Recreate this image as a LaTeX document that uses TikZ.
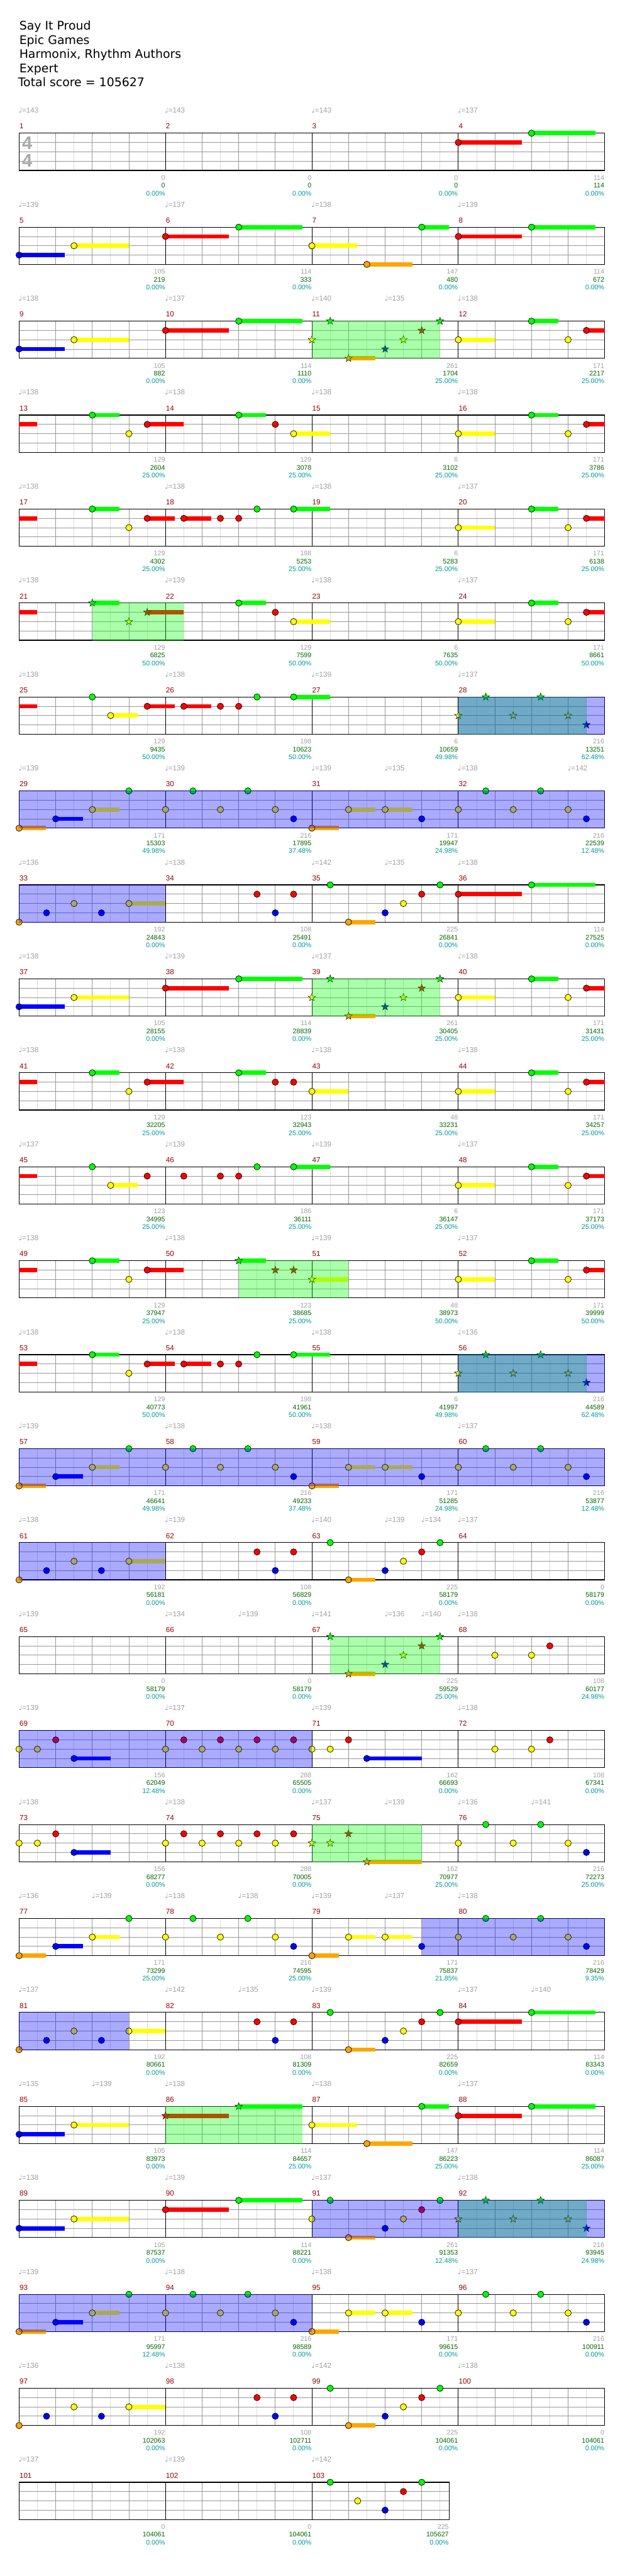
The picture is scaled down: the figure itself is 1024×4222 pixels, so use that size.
\documentclass[tikz,border=0pt]{standalone}
\usepackage{fontspec}
\setmainfont{Liberation Sans}
\newfontfamily\dejavu{DejaVu Sans}
\usetikzlibrary{shapes.geometric}
\definecolor{lane0}{RGB}{0,255,0}
\definecolor{lane1}{RGB}{255,0,0}
\definecolor{lane2}{RGB}{255,255,0}
\definecolor{lane3}{RGB}{0,0,255}
\definecolor{lane4}{RGB}{255,165,0}
\definecolor{halfgray}{RGB}{221,221,221}
\definecolor{beatgray}{RGB}{153,153,153}
\definecolor{txtgray}{RGB}{160,160,160}
\definecolor{mnumc}{RGB}{153,0,0}
\definecolor{scgreen}{RGB}{0,102,0}
\definecolor{sccyan}{RGB}{0,153,153}
\definecolor{tsgray}{RGB}{170,170,170}
\tikzset{
  mnum/.style={inner sep=0pt,anchor=base west,text=mnumc,font=\fontsize{12}{12}\selectfont},
  tempo/.style={inner sep=0pt,anchor=base west,text=txtgray,font=\fontsize{12}{12}\selectfont},
  scgr/.style={inner sep=0pt,anchor=base east,text=txtgray,font=\fontsize{11}{11}\selectfont},
  scgn/.style={inner sep=0pt,anchor=base east,text=scgreen,font=\fontsize{11}{11}\selectfont},
  sccy/.style={inner sep=0pt,anchor=base east,text=sccyan,font=\fontsize{11}{11}\selectfont},
  header/.style={inner sep=0pt,anchor=base west,font=\dejavu\fontsize{19.5}{23}\selectfont},
  tsig/.style={inner sep=0pt,text=tsgray,font=\bfseries\fontsize{30}{30}\selectfont},
  starnote/.style={star,star points=5,star point ratio=2.5,minimum size=13pt,inner sep=0pt,draw=black,line width=0.5pt},
}
\newcommand\Mset[1]{\pgfmathtruncatemacro\mrow{int((#1-1)/4)}\pgfmathtruncatemacro\mcol{#1-1-4*\mrow}\pgfmathsetmacro\mX{31.3+240*\mcol}\pgfmathsetmacro\mY{218.3+154*\mrow}}
\newcommand\Nt[4]{\Mset{#1}\pgfmathsetmacro\nx{\mX+60*#2}\pgfmathsetmacro\ny{\mY+15.25*#3}\pgfmathsetmacro\nl{60*#4}%
  \ifdim\nl pt>0pt \fill[lane#3] (\nx,\ny-3.5) rectangle (\nx+\nl,\ny+3.5);\fi
  \filldraw[fill=lane#3,draw=black,line width=0.7pt] (\nx,\ny) circle[radius=5.2];}
\newcommand\Sn[4]{\Mset{#1}\pgfmathsetmacro\nx{\mX+60*#2}\pgfmathsetmacro\ny{\mY+15.25*#3}\pgfmathsetmacro\nl{60*#4}%
  \ifdim\nl pt>0pt \fill[lane#3] (\nx,\ny-3.5) rectangle (\nx+\nl,\ny+3.5);\fi
  \node[starnote,fill=lane#3] at (\nx,\ny) {};}
\newcommand\Sus[4]{\Mset{#1}\pgfmathsetmacro\nx{\mX+60*#2}\pgfmathsetmacro\ny{\mY+15.25*#3}\pgfmathsetmacro\nl{60*#4}%
  \fill[lane#3] (\nx,\ny-3.5) rectangle (\nx+\nl,\ny+3.5);}
\newcommand\ScoAt[5]{\Mset{#1}\pgfmathsetmacro\ex{\mX+#5-0.5}%
  \node[scgr] (sa#1) at (\ex,\mY+76.7) {#2};
  \node[scgn] (sb#1) at (\ex,\mY+89.7) {#3};
  \node[sccy] (sc#1) at (\ex,\mY+102.4) {#4\%};}
\newcommand\Sco[4]{\ScoAt{#1}{#2}{#3}{#4}{240}}
\newcommand\Tp[3]{\Mset{#1}\pgfmathsetmacro\tx{\mX+60*#2-1}%
  \node[tempo] at (\tx,\mY-33) {{\dejavu\fontsize{12}{12}\selectfont ♩}=#3};}
\newcommand\Greg[3]{\Mset{#1}\fill[lane0,opacity=0.333] (\mX+60*#2,\mY-0.6) rectangle (\mX+60*#3,\mY+61.6);}
\newcommand\Breg[3]{\Mset{#1}\fill[lane3,opacity=0.333] (\mX+60*#2,\mY-0.6) rectangle (\mX+60*#3,\mY+61.6);}
\newcommand\Staff[2]{%
  \pgfmathsetmacro\sT{218.3+154*#1}\pgfmathsetmacro\sB{\sT+61}\pgfmathsetmacro\sR{31.3+#2}%
  \pgfmathtruncatemacro\nh{ceil(#2/30)-1}%
  \foreach \i in {1,...,\nh}{\pgfmathtruncatemacro\qq{mod(\i,2)}\ifnum\qq=1 \pgfmathsetmacro\xx{31.3+30*\i}\draw[halfgray,line width=1pt] (\xx,\sT)--(\xx,\sB);\fi}
  \foreach \k in {1,2,3}{\pgfmathsetmacro\yy{\sT+15.25*\k}\draw[beatgray,line width=1pt] (31.3,\yy)--(\sR,\yy);}
  \foreach \i in {1,...,\nh}{\pgfmathtruncatemacro\qq{mod(\i,2)}\pgfmathtruncatemacro\rm{mod(\i,8)}\ifnum\qq=0 \pgfmathsetmacro\xx{31.3+30*\i}\ifnum\rm=0 \draw[black,line width=1pt] (\xx,\sT)--(\xx,\sB);\else\draw[beatgray,line width=1pt] (\xx,\sT)--(\xx,\sB);\fi\fi}
  \draw[black,line width=1.2pt] (31.3,\sT) rectangle (\sR,\sB);}
% patterns
\newcommand\PatA[1]{\Nt{#1}{0}{4}{0.74}\Nt{#1}{1}{3}{0.74}\Nt{#1}{2}{2}{0.74}\Nt{#1}{3}{0}{0}}
\newcommand\PatB[1]{\Nt{#1}{0}{2}{0}\Nt{#1}{0.75}{0}{0}\Nt{#1}{1.5}{2}{0}\Nt{#1}{2.25}{0}{0}\Nt{#1}{3}{2}{0}\Nt{#1}{3.5}{3}{0}}
\newcommand\PatC[1]{\Nt{#1}{0}{4}{0.74}\Nt{#1}{1}{2}{0.74}\Nt{#1}{2}{2}{0.74}\Nt{#1}{3}{3}{0}}
\newcommand\PatD[1]{\Nt{#1}{0}{4}{0}\Nt{#1}{0.75}{3}{0}\Nt{#1}{1.5}{2}{0}\Nt{#1}{2.25}{3}{0}\Nt{#1}{3}{2}{1.0}}
\newcommand\PatE[1]{\Nt{#1}{2.5}{1}{0}\Nt{#1}{3}{3}{0}\Nt{#1}{3.5}{1}{0}}
\newcommand\PatF[1]{\Nt{#1}{0.5}{0}{0}\Nt{#1}{1}{4}{0.74}\Nt{#1}{2}{3}{0}\Nt{#1}{2.5}{2}{0}\Nt{#1}{3}{1}{0}\Nt{#1}{3.5}{0}{0}}
\newcommand\PatG[1]{\Nt{#1}{0}{1}{1.74}\Nt{#1}{2}{0}{1.74}}
\newcommand\PatH[1]{\Nt{#1}{0}{3}{1.24}\Nt{#1}{1.5}{2}{1.5}}
\newcommand\PatS[1]{\Sn{#1}{0}{2}{0}\Sn{#1}{0.75}{0}{0}\Sn{#1}{1.5}{2}{0}\Sn{#1}{2.25}{0}{0}\Sn{#1}{3}{2}{0}\Sn{#1}{3.5}{3}{0}}
\newcommand\PatT[1]{\Sn{#1}{0}{2}{0}\Sn{#1}{0.5}{0}{0}\Sn{#1}{1}{4}{0.74}\Sn{#1}{2}{3}{0}\Sn{#1}{2.5}{2}{0}\Sn{#1}{3}{1}{0}\Sn{#1}{3.5}{0}{0}}
\newcommand\PatK[1]{\Nt{#1}{0}{2}{0}\Nt{#1}{0.5}{1}{0}\Nt{#1}{1}{2}{0}\Nt{#1}{1.5}{1}{0}\Nt{#1}{2}{2}{0}\Nt{#1}{2.5}{1}{0}\Nt{#1}{3}{2}{0}\Nt{#1}{3.5}{1}{0}}
\newcommand\PatL[1]{\Nt{#1}{0}{2}{1.0}\Nt{#1}{2}{0}{0.74}\Nt{#1}{3}{2}{0}\Nt{#1}{3.5}{1}{0.5}}
\newcommand\PatM[2]{\Sus{#1}{0}{1}{0.5}\Nt{#1}{2}{0}{0.74}\Nt{#1}{3}{2}{0}\Nt{#1}{3.5}{1}{#2}}
\newcommand\PatN[1]{\Nt{#1}{0.5}{1}{0.75}\Nt{#1}{1.5}{1}{0}\Nt{#1}{2}{1}{0}\Nt{#1}{2.5}{0}{0}\Nt{#1}{3.5}{0}{1.0}}
\newcommand\PatP[1]{\Nt{#1}{0}{2}{1.24}\Nt{#1}{1.5}{4}{1.24}\Nt{#1}{3}{0}{0.74}}
\begin{document}
\begin{tikzpicture}[x=1pt,y=-1pt]
\useasboundingbox (0,0) rectangle (1024,4222);
\fill[white] (0,0) rectangle (1024,4222);
% header
\node[header] (title) at (31.5,49.3) {Say It Proud};
\node[header] (artist) at (31.5,72.3) {Epic Games};
\node[header] (charter) at (31.5,95.7) {Harmonix, Rhythm Authors};
\node[header] (diff) at (31.5,118.7) {Expert};
\node[header] (total) at (29.5,141.7) {Total score = 105627};
% staves
\foreach \rr in {0,...,24}{\Staff{\rr}{960}}
\Staff{25}{705}
\node[tsig] (ts1) at (44.5,234) {4};
\node[tsig] (ts2) at (44.5,263.5) {4};
% measure numbers
\foreach \m in {1,...,103}{\Mset{\m}\node[mnum] (mn\m) at (\mX+0.5,\mY-7) {\m};}
% tempos
\Tp{1}{0}{143}\Tp{2}{0}{143}\Tp{3}{0}{143}\Tp{4}{0}{137}
\Tp{5}{0}{139}\Tp{6}{0}{137}\Tp{7}{0}{138}\Tp{8}{0}{139}
\Tp{9}{0}{138}\Tp{10}{0}{137}\Tp{11}{0}{140}\Tp{11}{2}{135}\Tp{12}{0}{138}
\Tp{13}{0}{138}\Tp{14}{0}{138}\Tp{15}{0}{138}\Tp{16}{0}{138}
\Tp{17}{0}{138}\Tp{18}{0}{138}\Tp{19}{0}{138}\Tp{20}{0}{137}
\Tp{21}{0}{138}\Tp{22}{0}{139}\Tp{23}{0}{138}\Tp{24}{0}{137}
\Tp{25}{0}{138}\Tp{26}{0}{138}\Tp{27}{0}{139}\Tp{28}{0}{137}
\Tp{29}{0}{139}\Tp{30}{0}{139}\Tp{31}{0}{139}\Tp{31}{2}{135}\Tp{32}{0}{138}\Tp{32}{3}{142}
\Tp{33}{0}{136}\Tp{34}{0}{138}\Tp{35}{0}{142}\Tp{35}{2}{135}\Tp{36}{0}{138}
\Tp{37}{0}{138}\Tp{38}{0}{139}\Tp{39}{0}{137}\Tp{40}{0}{138}
\Tp{41}{0}{138}\Tp{42}{0}{138}\Tp{43}{0}{138}\Tp{44}{0}{138}
\Tp{45}{0}{137}\Tp{46}{0}{139}\Tp{47}{0}{139}\Tp{48}{0}{137}
\Tp{49}{0}{138}\Tp{50}{0}{138}\Tp{51}{0}{139}\Tp{52}{0}{137}
\Tp{53}{0}{138}\Tp{54}{0}{138}\Tp{55}{0}{138}\Tp{56}{0}{136}
\Tp{57}{0}{139}\Tp{58}{0}{138}\Tp{59}{0}{138}\Tp{60}{0}{137}
\Tp{61}{0}{138}\Tp{62}{0}{139}\Tp{63}{0}{140}\Tp{63}{2}{139}\Tp{63}{3}{134}\Tp{64}{0}{137}
\Tp{65}{0}{139}\Tp{66}{0}{134}\Tp{66}{2}{139}\Tp{67}{0}{141}\Tp{67}{2}{136}\Tp{67}{3}{140}\Tp{68}{0}{138}
\Tp{69}{0}{139}\Tp{70}{0}{137}\Tp{71}{0}{139}\Tp{72}{0}{138}
\Tp{73}{0}{138}\Tp{74}{0}{138}\Tp{75}{0}{137}\Tp{75}{2}{139}\Tp{76}{0}{136}\Tp{76}{2}{141}
\Tp{77}{0}{136}\Tp{77}{2}{139}\Tp{78}{0}{138}\Tp{78}{2}{138}\Tp{79}{0}{139}\Tp{79}{2}{137}\Tp{80}{0}{138}
\Tp{81}{0}{137}\Tp{82}{0}{142}\Tp{82}{2}{135}\Tp{83}{0}{139}\Tp{84}{0}{137}\Tp{84}{2}{140}
\Tp{85}{0}{135}\Tp{85}{2}{139}\Tp{86}{0}{138}\Tp{87}{0}{138}\Tp{88}{0}{137}
\Tp{89}{0}{138}\Tp{90}{0}{139}\Tp{91}{0}{137}\Tp{92}{0}{138}
\Tp{93}{0}{139}\Tp{94}{0}{138}\Tp{95}{0}{138}\Tp{96}{0}{137}
\Tp{97}{0}{136}\Tp{98}{0}{138}\Tp{99}{0}{142}\Tp{100}{0}{138}
\Tp{101}{0}{137}\Tp{102}{0}{139}\Tp{103}{0}{142}
% scores
\Sco{1}{0}{0}{0.00}\Sco{2}{0}{0}{0.00}\Sco{3}{0}{0}{0.00}\Sco{4}{114}{114}{0.00}
\Sco{5}{105}{219}{0.00}\Sco{6}{114}{333}{0.00}\Sco{7}{147}{480}{0.00}\Sco{8}{114}{672}{0.00}
\Sco{9}{105}{882}{0.00}\Sco{10}{114}{1110}{0.00}\Sco{11}{261}{1704}{25.00}\Sco{12}{171}{2217}{25.00}
\Sco{13}{129}{2604}{25.00}\Sco{14}{129}{3078}{25.00}\Sco{15}{6}{3102}{25.00}\Sco{16}{171}{3786}{25.00}
\Sco{17}{129}{4302}{25.00}\Sco{18}{198}{5253}{25.00}\Sco{19}{6}{5283}{25.00}\Sco{20}{171}{6138}{25.00}
\Sco{21}{129}{6825}{50.00}\Sco{22}{129}{7599}{50.00}\Sco{23}{6}{7635}{50.00}\Sco{24}{171}{8661}{50.00}
\Sco{25}{129}{9435}{50.00}\Sco{26}{198}{10623}{50.00}\Sco{27}{6}{10659}{49.98}\Sco{28}{216}{13251}{62.48}
\Sco{29}{171}{15303}{49.98}\Sco{30}{216}{17895}{37.48}\Sco{31}{171}{19947}{24.98}\Sco{32}{216}{22539}{12.48}
\Sco{33}{192}{24843}{0.00}\Sco{34}{108}{25491}{0.00}\Sco{35}{225}{26841}{0.00}\Sco{36}{114}{27525}{0.00}
\Sco{37}{105}{28155}{0.00}\Sco{38}{114}{28839}{0.00}\Sco{39}{261}{30405}{25.00}\Sco{40}{171}{31431}{25.00}
\Sco{41}{129}{32205}{25.00}\Sco{42}{123}{32943}{25.00}\Sco{43}{48}{33231}{25.00}\Sco{44}{171}{34257}{25.00}
\Sco{45}{123}{34995}{25.00}\Sco{46}{186}{36111}{25.00}\Sco{47}{6}{36147}{25.00}\Sco{48}{171}{37173}{25.00}
\Sco{49}{129}{37947}{25.00}\Sco{50}{123}{38685}{25.00}\Sco{51}{48}{38973}{50.00}\Sco{52}{171}{39999}{50.00}
\Sco{53}{129}{40773}{50.00}\Sco{54}{198}{41961}{50.00}\Sco{55}{6}{41997}{49.98}\Sco{56}{216}{44589}{62.48}
\Sco{57}{171}{46641}{49.98}\Sco{58}{216}{49233}{37.48}\Sco{59}{171}{51285}{24.98}\Sco{60}{216}{53877}{12.48}
\Sco{61}{192}{56181}{0.00}\Sco{62}{108}{56829}{0.00}\Sco{63}{225}{58179}{0.00}\Sco{64}{0}{58179}{0.00}
\Sco{65}{0}{58179}{0.00}\Sco{66}{0}{58179}{0.00}\Sco{67}{225}{59529}{25.00}\Sco{68}{108}{60177}{24.98}
\Sco{69}{156}{62049}{12.48}\Sco{70}{288}{65505}{0.00}\Sco{71}{162}{66693}{0.00}\Sco{72}{108}{67341}{0.00}
\Sco{73}{156}{68277}{0.00}\Sco{74}{288}{70005}{0.00}\Sco{75}{162}{70977}{25.00}\Sco{76}{216}{72273}{25.00}
\Sco{77}{171}{73299}{25.00}\Sco{78}{216}{74595}{25.00}\Sco{79}{171}{75837}{21.85}\Sco{80}{216}{78429}{9.35}
\Sco{81}{192}{80661}{0.00}\Sco{82}{108}{81309}{0.00}\Sco{83}{225}{82659}{0.00}\Sco{84}{114}{83343}{0.00}
\Sco{85}{105}{83973}{0.00}\Sco{86}{114}{84657}{25.00}\Sco{87}{147}{86223}{25.00}\Sco{88}{114}{86087}{25.00}
\Sco{89}{105}{87537}{0.00}\Sco{90}{114}{88221}{0.00}\Sco{91}{261}{91353}{12.48}\Sco{92}{216}{93945}{24.98}
\Sco{93}{171}{95997}{12.48}\Sco{94}{216}{98589}{0.00}\Sco{95}{171}{99615}{0.00}\Sco{96}{216}{100911}{0.00}
\Sco{97}{192}{102063}{0.00}\Sco{98}{108}{102711}{0.00}\Sco{99}{225}{104061}{0.00}\Sco{100}{0}{104061}{0.00}
\Sco{101}{0}{104061}{0.00}\Sco{102}{0}{104061}{0.00}\ScoAt{103}{225}{105627}{0.00}{225}
% notes
\Nt{4}{0}{1}{1.74}\Nt{4}{2}{0}{1.74}
\PatH{5}\PatG{6}\Nt{6}{4}{2}{0}\PatP{7}\PatG{8}
\PatH{9}\PatG{10}\PatT{11}\Nt{12}{0}{2}{0.99}\Nt{12}{2}{0}{0.74}\Nt{12}{3}{2}{0}\Nt{12}{3.5}{1}{0.5}
\PatM{13}{1.0}\Nt{14}{2}{0}{0.74}\Nt{14}{3}{1}{0}\Nt{14}{3.5}{2}{1.0}\PatL{16}
\PatM{17}{0.75}\PatN{18}\PatL{20}
\Sus{21}{0}{1}{0.5}\Sn{21}{2}{0}{0.74}\Sn{21}{3}{2}{0}\Sn{21}{3.5}{1}{1.0}\Nt{22}{2}{0}{0.74}\Nt{22}{3}{1}{0}\Nt{22}{3.5}{2}{1.0}\PatL{24}
\Sus{25}{0}{1}{0.5}\Nt{25}{2}{0}{0}\Nt{25}{2.5}{2}{0.74}\Nt{25}{3.5}{1}{0.75}\PatN{26}\PatS{28}
\PatA{29}\PatB{30}\PatC{31}\PatB{32}
\PatD{33}\PatE{34}\PatF{35}\PatG{36}
\PatH{37}\PatG{38}\PatT{39}\PatL{40}
\PatM{41}{1.0}\Nt{42}{2}{0}{0.74}\Nt{42}{3}{1}{0}\Nt{42}{3.5}{1}{0}\Nt{43}{0}{2}{1.0}\PatL{44}
\Sus{45}{0}{1}{0.5}\Nt{45}{2}{0}{0}\Nt{45}{2.5}{2}{0.74}\Nt{45}{3.5}{1}{0}\Nt{46}{0.5}{1}{0}\Nt{46}{1.5}{1}{0}\Nt{46}{2}{1}{0}\Nt{46}{2.5}{0}{0}\Nt{46}{3.5}{0}{1.0}\PatL{48}
\PatM{49}{1.0}\Sn{50}{2}{0}{0.74}\Sn{50}{3}{1}{0}\Sn{50}{3.5}{1}{0}\Sn{51}{0}{2}{1.0}\PatL{52}
\PatM{53}{0.75}\PatN{54}\PatS{56}
\PatA{57}\PatB{58}\PatC{59}\PatB{60}
\PatD{61}\PatE{62}\PatF{63}
\Sn{67}{0.5}{0}{0}\Sn{67}{1}{4}{0.74}\Sn{67}{2}{3}{0}\Sn{67}{2.5}{2}{0}\Sn{67}{3}{1}{0}\Sn{67}{3.5}{0}{0}
\Nt{68}{1}{2}{0}\Nt{68}{2}{2}{0}\Nt{68}{2.5}{1}{0}
\Nt{69}{0}{2}{0}\Nt{69}{0.5}{2}{0}\Nt{69}{1}{1}{0}\Nt{69}{1.5}{3}{1.0}\PatK{70}
\Nt{71}{0}{2}{0}\Nt{71}{0.5}{2}{0}\Nt{71}{1}{1}{0}\Nt{71}{1.5}{3}{1.5}\Nt{72}{1}{2}{0}\Nt{72}{2}{2}{0}\Nt{72}{2.5}{1}{0}
\Nt{73}{0}{2}{0}\Nt{73}{0.5}{2}{0}\Nt{73}{1}{1}{0}\Nt{73}{1.5}{3}{1.0}\PatK{74}
\Sn{75}{0}{2}{0}\Sn{75}{0.5}{2}{0}\Sn{75}{1}{1}{0}\Sn{75}{1.5}{4}{1.5}\PatB{76}
\PatA{77}\PatB{78}\PatC{79}\PatB{80}
\PatD{81}\PatE{82}\PatF{83}\PatG{84}
\PatH{85}\Sn{86}{0}{1}{1.74}\Sn{86}{2}{0}{1.74}\PatP{87}\PatG{88}
\PatH{89}\PatG{90}\Nt{91}{0}{2}{0}\PatF{91}\PatS{92}
\PatA{93}\PatB{94}\PatC{95}\PatB{96}
\PatD{97}\PatE{98}\PatF{99}
\Nt{103}{0.5}{0}{0}\Nt{103}{1.25}{2}{0}\Nt{103}{2}{3}{0}\Nt{103}{2.5}{1}{0}\Nt{103}{3}{0}{0}
% star power phrases
\Greg{11}{0}{3.5}\Greg{21}{2}{4.5}\Greg{28}{0}{3.5}\Greg{39}{0}{3.5}\Greg{50}{2}{5}
\Greg{56}{0}{3.5}\Greg{67}{0.5}{3.5}\Greg{75}{0}{3}\Greg{86}{0}{3.74}\Greg{92}{0}{3.5}
% overdrive activations
\Breg{28}{0}{4}\Breg{29}{0}{16}\Breg{33}{0}{4}\Breg{56}{0}{4}\Breg{57}{0}{16}\Breg{61}{0}{4}
\Breg{69}{0}{8}\Breg{79}{3}{8}\Breg{81}{0}{3}\Breg{91}{0}{8}\Breg{93}{0}{8}
\end{tikzpicture}
\end{document}
